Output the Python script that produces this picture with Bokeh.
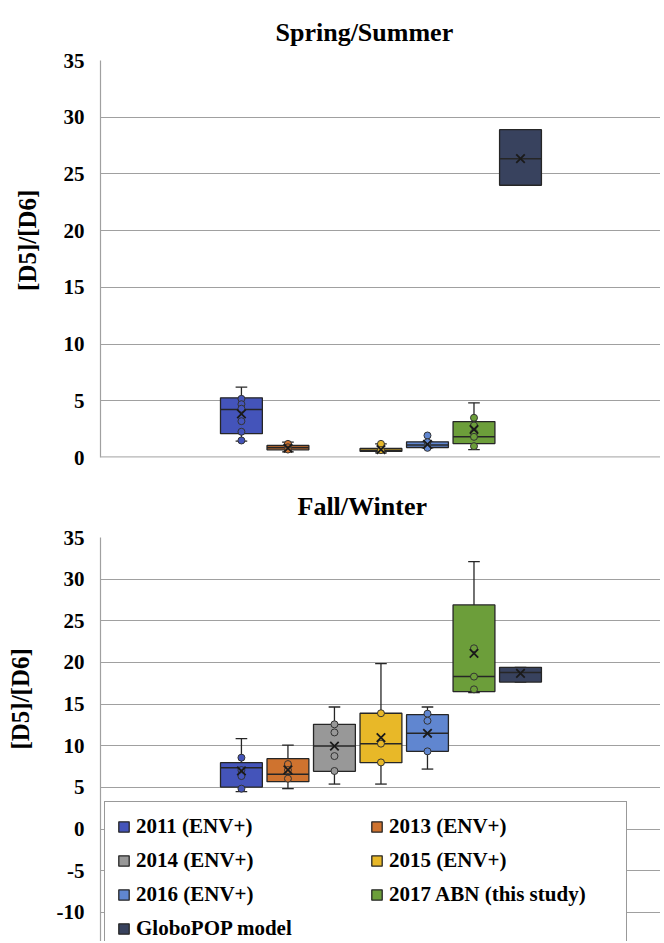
from bokeh.plotting import figure
from bokeh.models import ColumnDataSource, Range1d, FixedTicker, Span, Legend, LegendItem
from bokeh.layouts import column
from bokeh.embed import file_html
from bokeh.resources import INLINE

series = ["2011 (ENV+)", "2013 (ENV+)", "2014 (ENV+)", "2015 (ENV+)",
          "2016 (ENV+)", "2017 ABN (this study)", "GloboPOP model"]
colors = ["#4454ba", "#cf732f", "#989898", "#e8b828", "#6086d0", "#6c9e3a", "#38425e"]

# Spring/Summer (None = no samples that season)
ss_low  = [1.44, 0.50, None, 0.41, 0.85, 0.70, 24.00]
ss_q1   = [2.10, 0.68, None, 0.55, 0.88, 1.23, 24.00]
ss_med  = [4.23, 0.85, None, 0.65, 1.10, 1.82, 26.34]
ss_q3   = [5.26, 1.06, None, 0.80, 1.38, 3.17, 28.90]
ss_high = [6.20, 1.35, None, 1.20, 1.38, 4.82, 28.90]
ss_mean = [3.85, 0.82, None, 0.70, 1.15, 2.47, 26.34]
ss_pts  = [[5.17, 4.70, 4.30, 3.20, 2.27, 1.50], [1.20, 0.90, 0.70], [],
           [1.20, 0.65], [1.94, 1.35, 0.85], [3.50, 2.82, 2.20, 1.82, 1.00], []]

# Fall/Winter
fw_low  = [4.49, 4.85, 5.40, 5.40, 7.20, 16.37, 17.65]
fw_q1   = [5.04, 5.69, 6.93, 7.97, 9.33, 16.50, 17.65]
fw_med  = [7.37, 6.57, 9.96, 10.25, 11.49, 18.30, 18.80]
fw_q3   = [7.97, 8.45, 12.57, 13.90, 13.73, 26.90, 19.42]
fw_high = [10.85, 10.08, 14.65, 19.86, 14.65, 32.10, 19.42]
fw_mean = [6.97, 7.10, 9.96, 10.97, 11.50, 21.10, 18.70]
fw_pts  = [[8.57, 7.08, 6.36, 4.85], [7.80, 7.08, 6.05], [12.57, 11.60, 8.76, 6.97],
           [13.90, 10.25, 8.00], [13.85, 13.00, 9.33], [21.70, 18.30, 16.77], []]

ss_ticks = [0, 5, 10, 15, 20, 25, 30, 35]
fw_ticks = [-15, -10, -5, 0, 5, 10, 15, 20, 25, 30, 35]
y_title = "[D5]/[D6]"

FONT = "Liberation Serif"
BOX_W = 0.9
CAP_W = 0.25
EDGE = "#262626"
NBSP = "\u00a0"


def make_panel(title, low, q1, med, q3, high, mean, pts, yr, ticks,
               height, top_border, bottom_border, title_offset, title_standoff, label_shift):
    p = figure(width=660, height=height, x_range=Range1d(-3.03, 9.01),
               y_range=Range1d(*yr), output_backend="svg", toolbar_location=None,
               min_border_left=100, min_border_right=0, min_border_top=top_border,
               min_border_bottom=bottom_border, title=title)
    p.title.text_font = FONT
    p.title.text_font_style = "bold"
    p.title.text_font_size = "26px"
    p.title.text_color = "black"
    p.title.align = "left"
    p.title.offset = title_offset
    p.title.standoff = title_standoff
    p.outline_line_color = None
    p.background_fill_color = "white"
    p.border_fill_color = "white"
    p.xaxis.visible = False
    p.xgrid.visible = False
    p.yaxis.ticker = FixedTicker(ticks=ticks)
    p.ygrid.ticker = FixedTicker(ticks=ticks)
    p.yaxis.major_label_overrides = {t: str(t) for t in ticks if t < 0}
    p.ygrid.grid_line_color = "#a0a0a0"
    p.ygrid.grid_line_width = 1.2
    p.yaxis.axis_line_color = "#a0a0a0"
    p.yaxis.axis_line_width = 1.2
    p.yaxis.major_tick_line_color = None
    p.yaxis.minor_tick_line_color = None
    p.yaxis.major_label_text_font = FONT
    p.yaxis.major_label_text_font_style = "bold"
    p.yaxis.major_label_text_font_size = "21px"
    p.yaxis.major_label_text_color = "black"
    p.yaxis.major_label_standoff = 10
    # leading no-break spaces lift the title off the frame centre, as in the original
    p.yaxis.axis_label = NBSP * label_shift + y_title
    p.yaxis.axis_label_text_font = FONT
    p.yaxis.axis_label_text_font_style = "bold"
    p.yaxis.axis_label_text_font_size = "25px"
    p.yaxis.axis_label_text_color = "black"
    p.yaxis.axis_label_standoff = 20

    idx = [i for i in range(len(series)) if q1[i] is not None]
    src = ColumnDataSource(dict(
        x=idx,
        xl=[i - BOX_W / 2 for i in idx], xr=[i + BOX_W / 2 for i in idx],
        cl=[i - CAP_W / 2 for i in idx], cr=[i + CAP_W / 2 for i in idx],
        low=[low[i] for i in idx], q1=[q1[i] for i in idx], med=[med[i] for i in idx],
        q3=[q3[i] for i in idx], high=[high[i] for i in idx], mean=[mean[i] for i in idx],
        color=[colors[i] for i in idx], name=[series[i] for i in idx]))

    p.segment(x0="x", y0="q3", x1="x", y1="high", source=src, line_color=EDGE, line_width=1.3)
    p.segment(x0="x", y0="q1", x1="x", y1="low", source=src, line_color=EDGE, line_width=1.3)
    p.segment(x0="cl", y0="high", x1="cr", y1="high", source=src, line_color=EDGE, line_width=1.3)
    p.segment(x0="cl", y0="low", x1="cr", y1="low", source=src, line_color=EDGE, line_width=1.3)
    boxes = p.vbar(x="x", width=BOX_W, bottom="q1", top="q3", source=src,
                   fill_color="color", line_color=EDGE, line_width=1.3)
    p.segment(x0="xl", y0="med", x1="xr", y1="med", source=src, line_color=EDGE, line_width=1.5)

    px, pv, pc = [], [], []
    for i, vals in enumerate(pts):
        for v in vals:
            px.append(i)
            pv.append(v)
            pc.append(colors[i])
    psrc = ColumnDataSource(dict(x=px, v=pv, color=pc))
    p.scatter(x="x", y="v", source=psrc, marker="circle", size=7,
              fill_color="color", line_color="#333333", line_width=1)
    p.scatter(x="x", y="mean", source=src, marker="x", size=12,
              line_color="#1a1a1a", line_width=1.8)
    return p, boxes, idx


top, _, _ = make_panel("Spring/Summer", ss_low, ss_q1, ss_med, ss_q3, ss_high, ss_mean, ss_pts,
                       (0, 35), ss_ticks, 469, 60, 12, 175, 28, 6)
top.add_layout(Span(location=0, dimension="width", line_color="#b4b4b4", line_width=2.5))

bot, bboxes, bidx = make_panel("Fall/Winter", fw_low, fw_q1, fw_med, fw_q3, fw_high, fw_mean, fw_pts,
                               (35 - 404 / 8.33, 35), fw_ticks, 472, 68, 0, 197, 33, 13)

items = [LegendItem(label=series[i], renderers=[bboxes], index=k) for k, i in enumerate(bidx)]
legend = Legend(items=items, location=(4, -13), orientation="horizontal", ncols=2,
                label_text_font=FONT, label_text_font_style="bold",
                label_text_font_size="21px", label_text_color="black",
                glyph_width=13, glyph_height=13, label_standoff=6,
                label_height=23, label_width=225, spacing=9, padding=12, margin=0,
                border_line_color="#333333", border_line_width=1.5,
                background_fill_color="white", background_fill_alpha=1.0)
bot.add_layout(legend, "center")

layout = column(top, bot, spacing=0)
open("out.html", "w").write(file_html(layout, INLINE))
